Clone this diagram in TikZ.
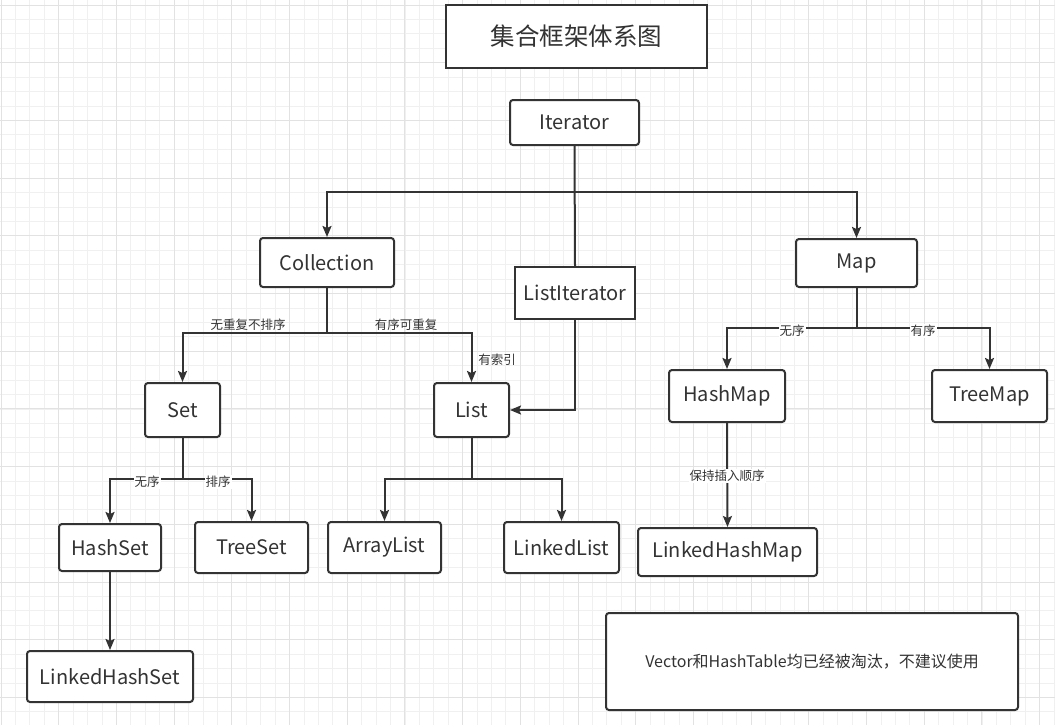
\documentclass[tikz,border=0pt]{standalone}
\usepackage{fontspec}
\setmainfont{Noto Sans CJK SC}
\usetikzlibrary{arrows.meta}
\definecolor{ink}{HTML}{333333}
\definecolor{gridminor}{HTML}{F0F0F0}
\definecolor{gridmajor}{HTML}{E2E2E2}
\tikzset{
  box/.style={draw=ink, line width=2pt, rounded corners=3pt, fill=white, text=ink,
    inner sep=0pt, font=\fontsize{20}{24}\selectfont},
  sqbox/.style={box, rounded corners=0pt},
  conn/.style={draw=ink, line width=2pt},
  arr/.style={conn, -{Stealth[length=11pt,width=9pt,inset=2pt]}},
  lbl/.style={text=ink, inner sep=1pt, font=\fontsize{12.5}{15}\selectfont},
  lblw/.style={lbl, fill=white},
}
\begin{document}
\begin{tikzpicture}[x=1pt,y=-1pt]
\useasboundingbox (0,0) rectangle (1055,725);
\fill[white] (0,0) rectangle (1055,725);
% grid
\foreach \i in {0,...,73} {
  \draw[gridminor, line width=0.8pt] ({1+\i*14.425},0) -- ({1+\i*14.425},725);
}
\foreach \i in {0,...,50} {
  \draw[gridminor, line width=0.8pt] (0,{5+\i*14.425}) -- (1055,{5+\i*14.425});
}
\foreach \i in {0,...,18} {
  \draw[gridmajor, line width=0.9pt] ({1+\i*57.7},0) -- ({1+\i*57.7},725);
}
\foreach \i in {0,...,12} {
  \draw[gridmajor, line width=0.9pt] (0,{5+\i*57.7}) -- (1055,{5+\i*57.7});
}

% nodes
\node[sqbox, minimum width=261pt, minimum height=63pt, font=\fontsize{24.5}{28}\selectfont] (title) at (576.5,36.5) {集合框架体系图};
\node[box, minimum width=129pt, minimum height=45pt] (iter) at (574.5,122.5) {\raisebox{-1.5pt}{Iterator}};
\node[box, minimum width=134pt, minimum height=49pt] (coll) at (327,262.5) {\raisebox{-1.5pt}{Collection}};
\node[sqbox, minimum width=120pt, minimum height=52pt] (litr) at (575,293) {\raisebox{-1.5pt}{ListIterator}};
\node[box, minimum width=121pt, minimum height=48pt] (map) at (856.5,263) {\raisebox{-1.5pt}{Map}};
\node[box, minimum width=75pt, minimum height=54pt] (set) at (182.5,410) {\raisebox{-1.5pt}{Set}};
\node[box, minimum width=75pt, minimum height=54pt] (list) at (471.5,410) {\raisebox{-1.5pt}{List}};
\node[box, minimum width=116pt, minimum height=52pt] (hmap) at (727,396) {\raisebox{-1.5pt}{HashMap}};
\node[box, minimum width=115pt, minimum height=52pt] (tmap) at (989.5,396) {\raisebox{-1.5pt}{TreeMap}};
\node[box, minimum width=102pt, minimum height=47pt] (hset) at (110,547.5) {\raisebox{-1.5pt}{HashSet}};
\node[box, minimum width=113pt, minimum height=51pt] (tset) at (251.5,547.5) {\raisebox{-1.5pt}{TreeSet}};
\node[box, minimum width=113pt, minimum height=51pt] (alist) at (384.5,547.5) {\raisebox{-1.5pt}{ArrayList}};
\node[box, minimum width=115pt, minimum height=51pt] (llist) at (561.5,547.5) {\raisebox{-1.5pt}{LinkedList}};
\node[box, minimum width=166pt, minimum height=51pt] (lhset) at (110,676.5) {\raisebox{-1.5pt}{LinkedHashSet}};
\node[box, minimum width=179pt, minimum height=48pt] (lhmap) at (727.5,552) {\raisebox{-1.5pt}{LinkedHashMap}};
\node[box, minimum width=412pt, minimum height=97pt, font=\fontsize{16}{19}\selectfont] (note) at (812,661.5) {Vector和HashTable均已经被淘汰，不建议使用};

% junctions
\coordinate (j1) at (575,192);
\coordinate (j2) at (327,333);
\coordinate (j3) at (182.5,479);
\coordinate (j4) at (471.5,479);
\coordinate (j5) at (856.5,328);

% connectors
\draw[conn] (iter.south) -- (litr.north);
\draw[arr] (j1) -| (coll.north);
\draw[arr] (j1) -| (map.north);
\draw[arr] (litr.south) |- (list.east);

\draw[conn] (coll.south) -- (j2);
\draw[arr] (j2) -| (set.north);
\draw[arr] (j2) -| (list.north);

\draw[conn] (set.south) -- (j3);
\draw[arr] (j3) -| (hset.north);
\draw[arr] (j3) -| (tset.north);

\draw[conn] (list.south) -- (j4);
\draw[arr] (j4) -| (alist.north);
\draw[arr] (j4) -| (llist.north);

\draw[conn] (map.south) -- (j5);
\draw[arr] (j5) -| (hmap.north);
\draw[arr] (j5) -| (tmap.north);

\draw[arr] (hset.south) -- (lhset.north);
\draw[arr] (hmap.south) -- (lhmap.north);

% labels
\node[lbl] (l1) at (248,325) {无重复不排序};
\node[lbl] (l2) at (406,325) {有序可重复};
\node[lbl] (l3) at (497,360) {有索引};
\node[lblw] (l4) at (147,482) {无序};
\node[lblw] (l5) at (218,482) {排序};
\node[lblw] (l6) at (792,331) {无序};
\node[lblw] (l7) at (923,331) {有序};
\node[lblw] (l8) at (727,476) {保持插入顺序};
\end{tikzpicture}
\end{document}
